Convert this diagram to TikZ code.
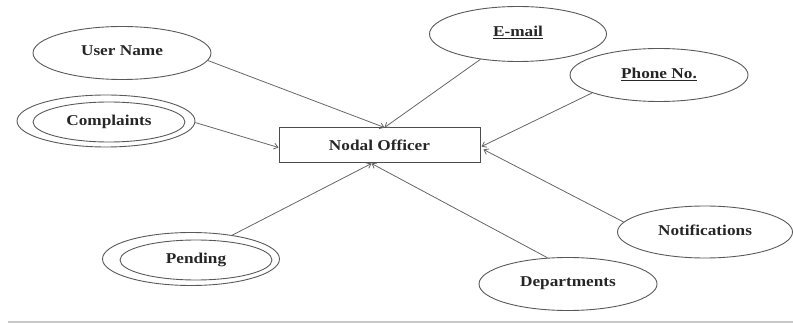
\documentclass[tikz,border=0pt]{standalone}
\usepackage{fontspec}
\setmainfont{Liberation Serif}[FakeStretch=1.15]
\usetikzlibrary{shapes.geometric,arrows.meta}
\begin{document}
\begin{tikzpicture}[x=1pt,y=-1pt,
  attr/.style={ellipse,draw=black!65,line width=0.9pt,inner sep=0pt,
    font=\fontsize{15}{17}\selectfont\bfseries,text=black!85},
  ent/.style={rectangle,draw=black!70,line width=1pt,inner sep=0pt,
    minimum width=201pt,minimum height=35pt,
    font=\fontsize{15}{17}\selectfont\bfseries,text=black!85},
  conn/.style={draw=black!60,line width=0.8pt,-{Straight Barb[length=4pt,width=6pt]}}]
\useasboundingbox (0,0) rectangle (793,323);
% entity
\node[ent] (box) at (379.5,145.5) {Nodal Officer};
\coordinate (bt) at ([xshift=5pt]box.north);
\coordinate (bb) at ([xshift=-8pt]box.south);
\coordinate (bl) at ([yshift=-2pt]box.west);
\coordinate (br) at ([xshift=1pt,yshift=-1pt]box.east);
\coordinate (brn) at ([xshift=3pt,yshift=-4pt]box.east);
% attributes
\node[attr,minimum width=178pt,minimum height=53pt] (un) at (122,53) {\raisebox{4pt}{User Name}};
\node[attr,minimum width=178pt,minimum height=52pt] (co) at (106,121) {};
\node[attr,minimum width=152pt,minimum height=40pt] (coin) at (109,122) {\raisebox{2pt}{Complaints}};
\node[attr,minimum width=177pt,minimum height=55pt] (em) at (518,34) {\raisebox{6pt}{\underline{E-mail}}};
\node[attr,minimum width=178pt,minimum height=53pt] (ph) at (659,75) {\raisebox{4pt}{\underline{Phone No.}}};
\node[attr,minimum width=177pt,minimum height=53pt] (pe) at (191,259) {};
\node[attr,minimum width=152pt,minimum height=40pt] (pein) at (196,260) {\raisebox{2pt}{Pending}};
\node[attr,minimum width=175pt,minimum height=52pt] (no) at (705,232) {\raisebox{4pt}{Notifications}};
\node[attr,minimum width=178pt,minimum height=53pt] (de) at (568,284) {\raisebox{4pt}{Departments}};
% connectors
\draw[conn] (un.-5) -- (bt);
\draw[conn] (em.-146) -- (bt);
\draw[conn] (co.-1) -- (bl);
\draw[conn] (ph.-165) -- (br);
\draw[conn] (no.173) -- (brn);
\draw[conn] (pe.30) -- (bb);
\draw[conn] (de.128) -- (bb);
% bottom rule
\coordinate (rl) at (8,322);
\coordinate (rr) at (793,322);
\draw[black!22,line width=1.2pt] (rl) -- (rr);
\end{tikzpicture}
\end{document}
